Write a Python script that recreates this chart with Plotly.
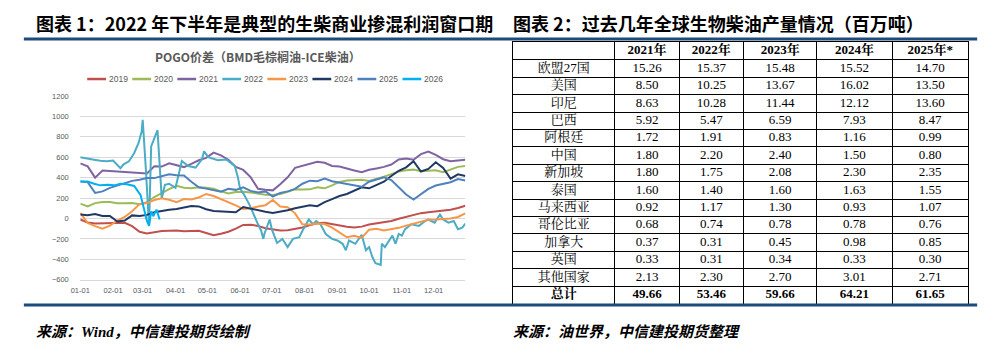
import pandas as pd
import plotly.graph_objects as go

W, H = 993, 351

# ---------------- data: POGO spread ----------------
YEARS = ["2019", "2020", "2021", "2022", "2023", "2024", "2025", "2026"]
COLORS = ["#C0504D", "#9BBB59", "#8064A2", "#4BACC6", "#F79646", "#203864", "#4F81BD", "#00B0F0"]

# weekly samples (53 points from 01-01 to 12-31)
WEEKLY_START = "2001-01-01"
S2019 = [-10, -40, -50, -48, -40, -45, -42, -75, -130, -148, -137, -123, -120, -117, -125, -125, -120, -143,
         -165, -150, -130, -100, -63, -62, -73, -95, -105, -117, -115, -100, -89, -65, -48, -43, -57, -70, -82,
         -88, -80, -60, -50, -38, -25, -3, 16, 28, 52, 61, 68, 78, 85, 102, 125]
S2020 = [145, 117, 150, 162, 160, 150, 148, 152, 140, 160, 210, 250, 288, 320, 300, 295, 305, 300, 290, 265,
         245, 258, 262, 255, 240, 232, 229, 240, 260, 285, 284, 285, 305, 295, 324, 358, 371, 375, 380, 367,
         386, 408, 434, 460, 472, 478, 462, 468, 472, 452, 480, 505, 514]
S2021 = [540, 510, 400, 470, 465, 460, 455, 448, 438, 440, 510, 508, 540, 525, 503, 535, 570, 593, 645, 618,
         575, 505, 475, 405, 290, 280, 275, 335, 403, 495, 517, 540, 555, 545, 514, 508, 492, 470, 452, 476,
         490, 505, 528, 578, 588, 575, 630, 655, 622, 580, 560, 570, 575]
S2023 = [54, -45, -75, -100, -70, -20, 15, 70, 140, 150, 180, 197, 183, 160, 190, 185, 205, 240, 220, 190,
         165, 128, 92, 100, 117, 130, 181, 117, 110, 50, -57, -60, -50, -55, -89, -140, -184, -170, -190, -110,
         -100, -118, -105, -92, -70, -50, -27, -12, -10, -8, 0, 15, 50]
S2024 = [38, 32, 44, 25, 25, -30, -20, 30, 25, 35, 60, 75, 85, 93, 108, 122, 118, 90, 73, 68, 62, 60, 112, 96,
         78, 66, 54, 66, 80, 100, 117, 130, 120, 160, 190, 220, 240, 270, 305, 295, 328, 360, 415, 467, 500,
         560, 460, 485, 550, 495, 390, 432, 415]
S2025 = [362, 356, 250, 265, 300, 325, 350, 368, 378, 395, 395, 415, 432, 422, 420, 360, 305, 292, 280, 262,
         290, 280, 305, 270, 255, 265, 215, 250, 265, 290, 340, 370, 365, 390, 365, 350, 340, 326, 310, 360,
         385, 403, 375, 308, 235, 185, 240, 290, 322, 337, 355, 385, 372]

# irregular samples
D2022 = ["01-01", "01-08", "01-14", "01-20", "01-26", "02-01", "02-08", "02-11", "02-16", "02-21", "02-25",
         "02-28", "03-01", "03-04", "03-07", "03-09", "03-12", "03-15", "03-19", "03-22", "03-26", "04-01",
         "04-07", "04-13", "04-20", "04-26", "04-28", "05-02", "05-11", "05-19", "05-27", "05-30", "06-01",
         "06-05", "06-10", "06-15", "06-18", "06-21", "06-23", "06-24", "06-29", "07-01", "07-06", "07-11",
         "07-16", "07-21", "07-27", "07-30", "08-05", "08-09", "08-12", "08-16", "08-21", "08-27", "09-01",
         "09-06", "09-09", "09-12", "09-18", "09-24", "09-28", "10-01", "10-04", "10-07", "10-12", "10-13",
         "10-16", "10-20", "10-23", "10-26", "10-29", "11-01", "11-04", "11-10", "11-17", "11-23", "11-26",
         "12-02", "12-07", "12-10", "12-15", "12-20", "12-24", "12-28", "12-31"]
S2022 = [600, 590, 575, 565, 560, 568, 492, 530, 560, 641, 737, 850, 965, 480, -73, 705, 780, 864, 197, 330,
         340, 300, 562, 514, 498, 578, 657, 600, 570, 578, 514, 403, 292, 229, 133, 6, -57, -120, -200, -152,
         -10, -105, -240, -200, -280, -200, -184, -120, -10, -57, -25, -57, -152, -200, -216, -248, -311, -216,
         -248, -160, -311, -280, -375, -438, -454, -248, -280, -216, -168, -248, -152, -168, -105, -57, -73,
         -25, -10, -41, 38, -10, -41, -25, -105, -90, -51]
D2026 = ["01-01", "01-08", "01-14", "01-20", "01-27", "02-02", "02-08", "02-14", "02-21", "02-27", "03-02",
         "03-05", "03-07", "03-09", "03-11", "03-14", "03-17"]
S2026 = [362, 362, 340, 324, 330, 324, 340, 335, 318, 229, 102, -25, -73, 70, 22, 86, -10]

Y_TICKS = [-600, -400, -200, 0, 200, 400, 600, 800, 1000, 1200]

# ---------------- data: biodiesel table ----------------
TABLE_HEADER = ["", "2021年", "2022年", "2023年", "2024年", "2025年*"]
COUNTRIES = ["欧盟27国", "美国", "印尼", "巴西", "阿根廷", "中国", "新加坡", "泰国", "马来西亚", "哥伦比亚",
             "加拿大", "英国", "其他国家", "总计"]
P2021 = ["15.26", "8.50", "8.63", "5.92", "1.72", "1.80", "1.80", "1.60", "0.92", "0.68", "0.37", "0.33", "2.13", "49.66"]
P2022 = ["15.37", "10.25", "10.28", "5.47", "1.91", "2.20", "1.75", "1.40", "1.17", "0.74", "0.31", "0.31", "2.30", "53.46"]
P2023 = ["15.48", "13.67", "11.44", "6.59", "0.83", "2.40", "2.08", "1.60", "1.30", "0.78", "0.45", "0.34", "2.70", "59.66"]
P2024 = ["15.52", "16.02", "12.12", "7.93", "1.16", "1.50", "2.30", "1.63", "0.93", "0.78", "0.98", "0.33", "3.01", "64.21"]
P2025 = ["14.70", "13.50", "13.60", "8.47", "0.99", "0.80", "2.35", "1.55", "1.07", "0.76", "0.85", "0.30", "2.71", "61.65"]


def px(x):
    return x / W


def py(y):
    return 1 - y / H


weekly_dates = pd.date_range(WEEKLY_START, periods=len(S2019), freq="7D")
weekly = {"2019": S2019, "2020": S2020, "2021": S2021, "2023": S2023, "2024": S2024, "2025": S2025}
irregular = {"2022": (D2022, S2022), "2026": (D2026, S2026)}

fig = go.Figure()
for yr, col in zip(YEARS, COLORS):
    if yr in weekly:
        xs, ys = weekly_dates, weekly[yr]
    else:
        d, ys = irregular[yr]
        xs = pd.to_datetime(["2001-" + s for s in d])
    fig.add_trace(go.Scatter(x=xs, y=ys, mode="lines", name=yr,
                             line=dict(color=col, width=2), showlegend=False, hoverinfo="skip"))

# ---------------- table drawn on its own axes ----------------
COL_W = [103, 65, 65, 74, 76, 77]
col_edges = [0]
for w in COL_W:
    col_edges.append(col_edges[-1] + w)
col_centers = [(col_edges[i] + col_edges[i + 1]) / 2 for i in range(len(COL_W))]
columns = [COUNTRIES, P2021, P2022, P2023, P2024, P2025]
n_rows = len(COUNTRIES) + 1

tx, ty, tt = [], [], []
for c, h in enumerate(TABLE_HEADER):
    if h:
        tx.append(col_centers[c]); ty.append(0.5); tt.append(f"<b>{h}</b>")
for c, col in enumerate(columns):
    for r, v in enumerate(col):
        last = r == len(col) - 1
        tx.append(col_centers[c]); ty.append(r + 1.5); tt.append(f"<b>{v}</b>" if last else v)

serif = "Times New Roman, Liberation Serif, Noto Serif CJK SC, Noto Sans CJK SC"
fig.add_trace(go.Scatter(x=tx, y=ty, text=tt, mode="text", textposition="middle center",
                         textfont=dict(family=serif, size=13, color="black"),
                         xaxis="x2", yaxis="y2", showlegend=False, hoverinfo="skip", cliponaxis=False))

grey = "#595959"
fig.update_layout(
    width=W, height=H, margin=dict(l=0, r=0, t=0, b=0),
    paper_bgcolor="white", plot_bgcolor="white", hovermode=False,
    font=dict(family="Liberation Sans, Noto Sans CJK SC", color=grey),
    xaxis=dict(domain=[px(71), px(460)], type="date", range=["2001-01-01", "2001-12-31"],
               tickformat="%m-%d", dtick="M1", tick0="2001-01-01", showgrid=False,
               showline=True, linecolor="#D9D9D9", ticks="outside", ticklen=3, tickcolor="rgba(0,0,0,0)",
               tickfont=dict(size=7.5, color=grey), fixedrange=True),
    yaxis=dict(domain=[py(283), py(94.3)], range=[-600, 1200], tickvals=Y_TICKS,
               showgrid=True, gridcolor="#D9D9D9", gridwidth=1, zeroline=False, showline=False,
               ticks="outside", ticklen=9, tickcolor="rgba(0,0,0,0)",
               tickfont=dict(size=7.5, color=grey), fixedrange=True),
    xaxis2=dict(domain=[px(508), px(968)], range=[0, col_edges[-1]], tickvals=col_edges[1:-1],
                showticklabels=False, showgrid=True, gridcolor="black", gridwidth=1, zeroline=False,
                showline=True, mirror=True, linecolor="black", linewidth=1, ticks="", anchor="y2",
                fixedrange=True),
    yaxis2=dict(domain=[py(307.5), py(39.4)], range=[n_rows, 0], tickvals=list(range(1, n_rows)),
                showticklabels=False, showgrid=True, gridcolor="black", gridwidth=1, zeroline=False,
                showline=True, mirror=True, linecolor="black", linewidth=1, ticks="", anchor="x2",
                fixedrange=True),
)

shapes = []
annotations = []
navy = "#1F4A7C"
for yl in (36, 309):
    shapes.append(dict(type="line", xref="paper", yref="paper", x0=px(14), x1=px(977), y0=py(yl), y1=py(yl),
                       line=dict(color=navy, width=3)))

title_font = dict(family="Noto Sans CJK SC", size=18, color="black")
annotations.append(dict(xref="paper", yref="paper", x=px(24), y=py(20), xanchor="left", yanchor="middle",
                        text="<b>图表 1：2022 年下半年是典型的生柴商业掺混利润窗口期</b>", showarrow=False,
                        font=title_font))
annotations.append(dict(xref="paper", yref="paper", x=px(506), y=py(20), xanchor="left", yanchor="middle",
                        text="<b>图表 2：过去几年全球生物柴油产量情况（百万吨）</b>", showarrow=False,
                        font=title_font))
annotations.append(dict(xref="paper", yref="paper", x=px(251), y=py(54), xanchor="center", yanchor="middle",
                        text="<b>POGO价差（BMD毛棕榈油-ICE柴油）</b>", showarrow=False,
                        font=dict(family="Noto Sans CJK SC", size=12, color=grey)))

# legend row
lx0, lstep, llen, ly = 78, 45.5, 19, 77
for i, (yr, col) in enumerate(zip(YEARS, COLORS)):
    x0 = lx0 + i * lstep
    shapes.append(dict(type="line", xref="paper", yref="paper", x0=px(x0), x1=px(x0 + llen), y0=py(ly),
                       y1=py(ly), line=dict(color=col, width=2.5)))
    annotations.append(dict(xref="paper", yref="paper", x=px(x0 + llen + 1), y=py(ly), xanchor="left",
                            yanchor="middle", text=yr, showarrow=False,
                            font=dict(family="Liberation Sans", size=8.5, color=grey)))

foot_font = dict(family="Noto Sans CJK SC", size=15, color="black")
annotations.append(dict(xref="paper", yref="paper", x=px(24), y=py(335), xanchor="left", yanchor="middle",
                        text="<b><i>来源：<span style='font-family:Liberation Serif'>Wind</span>，中信建投期货绘制</i></b>",
                        showarrow=False, font=foot_font))
annotations.append(dict(xref="paper", yref="paper", x=px(506), y=py(335), xanchor="left", yanchor="middle",
                        text="<b><i>来源：油世界，中信建投期货整理</i></b>", showarrow=False, font=foot_font))

fig.update_layout(shapes=shapes, annotations=annotations)
fig.write_html("out.html", config={"displayModeBar": False})
